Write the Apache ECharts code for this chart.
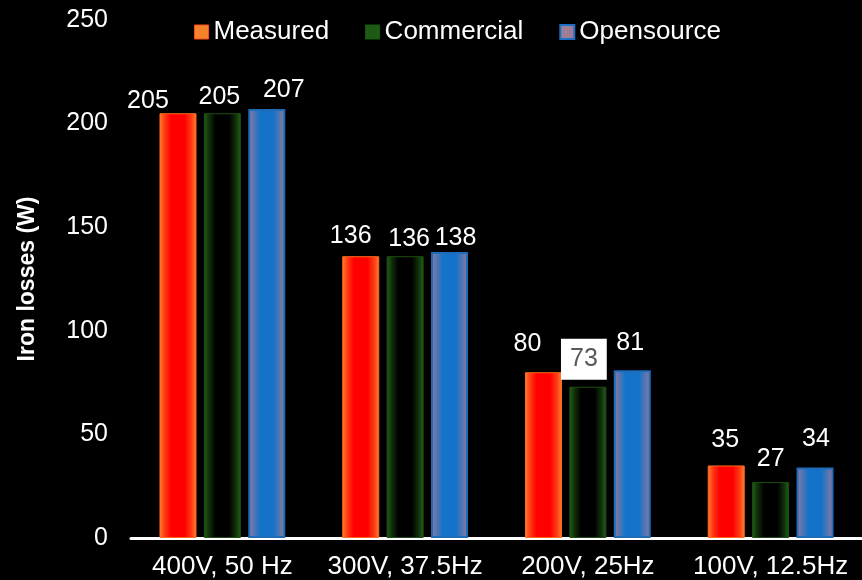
<!DOCTYPE html>
<html>
<head>
<meta charset="utf-8">
<script src="https://cdn.jsdelivr.net/npm/echarts@6/dist/echarts.min.js"></script>
<style>
  html, body { margin: 0; padding: 0; background: #000; }
  #chart { width: 862px; height: 580px; }
</style>
</head>
<body>
<div id="chart"></div>
<script>
var categories = ['400V, 50 Hz', '300V, 37.5Hz', '200V, 25Hz', '100V, 12.5Hz'];
var measured = [205, 136, 80, 35];
var commercial = [205, 136, 73, 27];
var opensource = [207, 138, 81, 34];
var yTicks = [0, 50, 100, 150, 200, 250];

// label nudges (dx, dy) to sit where the original labels are
var nudgeMeasured = [[-30, 3], [-10, -5], [-16, -13], [-1, -10]];
var nudgeCommercial = [[-3, -1], [4, -2], [-4, -4], [0, -7]];
var nudgeOpensource = [[17, -3], [6, 2], [-2, -12], [1, -13]];

function glow(edge, mid, center) {
    return {
        type: 'linear', x: 0, y: 0, x2: 1, y2: 0,
        colorStops: [
            { offset: 0, color: edge },
            { offset: 0.14, color: mid },
            { offset: 0.32, color: center },
            { offset: 0.68, color: center },
            { offset: 0.86, color: mid },
            { offset: 1, color: edge }
        ]
    };
}

function makeData(values, nudges) {
    var out = [];
    for (var i = 0; i < values.length; i++) {
        out.push({ value: values[i], label: { offset: nudges[i] } });
    }
    return out;
}

var commercialData = makeData(commercial, nudgeCommercial);
// the 73 label sits in a white box in the original
commercialData[2].label = {
    offset: [-4, -4],
    backgroundColor: '#ffffff',
    color: '#595959',
    padding: [8, 9]
};

var labelBase = {
    show: true,
    position: 'top',
    distance: 3,
    color: '#ffffff',
    fontSize: 25,
    fontFamily: 'Liberation Sans'
};

var myChart = echarts.init(document.getElementById('chart'));
var option = {
    backgroundColor: '#000000',
    textStyle: { fontFamily: 'Liberation Sans' },
    legend: {
        top: 14,
        left: 189,
        itemWidth: 14,
        itemHeight: 14,
        itemGap: 36,
        textStyle: { color: '#ffffff', fontSize: 26 },
        data: [
            { name: 'Measured', icon: 'rect', itemStyle: { color: '#F5822A', borderColor: '#FF4A10', borderWidth: 1 } },
            { name: 'Commercial', icon: 'rect', itemStyle: { color: '#1D5A13', borderColor: '#1D5A13', borderWidth: 1 } },
            { name: 'Opensource', icon: 'rect', itemStyle: { color: '#9C7F97', borderColor: '#1E6FC4', borderWidth: 2 } }
        ]
    },
    grid: {
        left: 131,
        right: -5,
        top: 20,
        bottom: 42
    },
    xAxis: {
        type: 'category',
        data: categories,
        axisLine: { lineStyle: { color: '#ffffff', width: 3 } },
        axisTick: { show: false },
        axisLabel: { color: '#ffffff', fontSize: 26, margin: 16, interval: 0 }
    },
    yAxis: {
        type: 'value',
        min: yTicks[0],
        max: yTicks[yTicks.length - 1],
        interval: 50,
        name: 'Iron losses (W)',
        nameLocation: 'middle',
        nameGap: 92,
        nameTextStyle: { color: '#ffffff', fontSize: 23, fontWeight: 'bold' },
        axisLine: { show: false },
        axisTick: { show: false },
        splitLine: { show: false },
        axisLabel: { color: '#ffffff', fontSize: 25, margin: 23 }
    },
    series: [
        {
            name: 'Measured',
            type: 'bar',
            barWidth: 37,
            barGap: '20%',
            data: makeData(measured, nudgeMeasured),
            itemStyle: { color: glow('#FF8030', '#FF3A14', '#FF0000'), borderColor: '#FF6A1E', borderWidth: 1 },
            label: labelBase
        },
        {
            name: 'Commercial',
            type: 'bar',
            barWidth: 37,
            barGap: '20%',
            data: commercialData,
            itemStyle: { color: glow('#24621A', '#10300A', '#000000'), borderColor: '#1E4E12', borderWidth: 1 },
            label: labelBase
        },
        {
            name: 'Opensource',
            type: 'bar',
            barWidth: 37,
            barGap: '20%',
            data: makeData(opensource, nudgeOpensource),
            itemStyle: { color: glow('#9C7A9A', '#5A76B0', '#1473C8'), borderColor: '#1E6BB8', borderWidth: 2 },
            label: labelBase
        }
    ]
};
myChart.setOption(option);
</script>
</body>
</html>
